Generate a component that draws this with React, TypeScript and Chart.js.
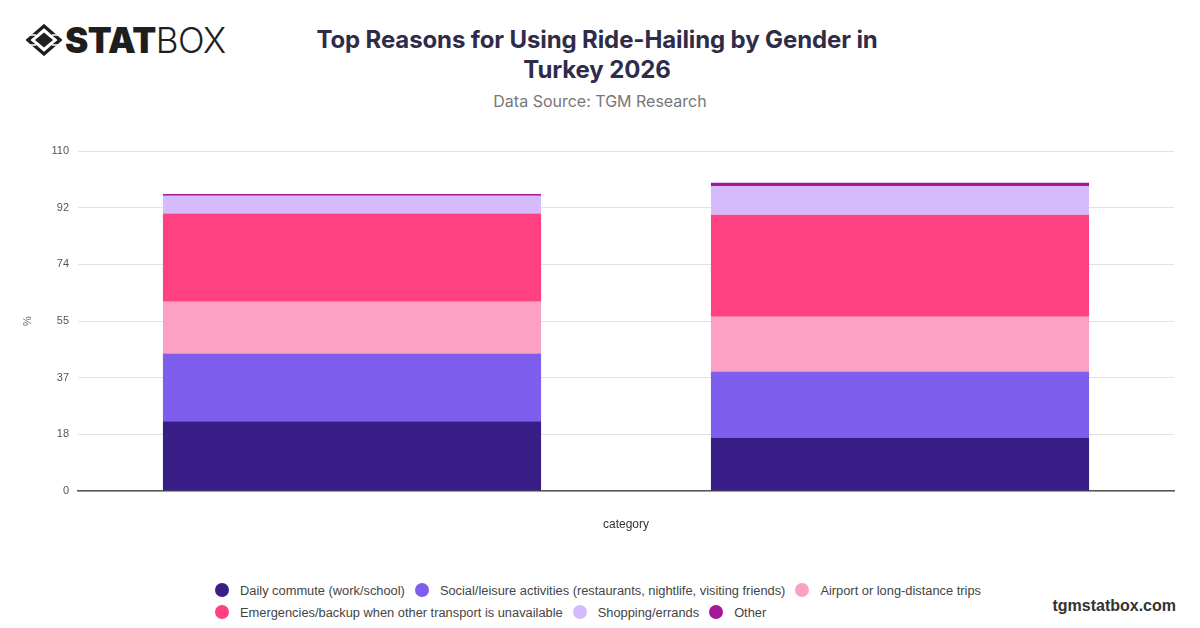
import React, { useEffect, useRef } from "react";
import { Chart, registerables } from "chart.js";

Chart.register(...registerables);

// ---- data ----
const categories = ["Male", "Female"];
const seriesLabels = [
  "Daily commute (work/school)",
  "Social/leisure activities (restaurants, nightlife, visiting friends)",
  "Airport or long-distance trips",
  "Emergencies/backup when other transport is unavailable",
  "Shopping/errands",
  "Other",
];
const dailyCommute = [22.6, 17.3];
const socialLeisure = [21.9, 21.4];
const airportTrips = [16.7, 17.7];
const emergencies = [28.6, 33.0];
const shopping = [5.7, 9.2];
const other = [0.6, 1.1];
const seriesColors = ["#381e86", "#7e5eec", "#fca1c3", "#ff4181", "#d5bbfc", "#a5189c"];
const yTickValues = [0, 18.33, 36.67, 55, 73.33, 91.67, 110];
const yTickLabels = ["0", "18", "37", "55", "74", "92", "110"];

const TITLE_LINES = ["Top Reasons for Using Ride-Hailing by Gender in", "Turkey 2026"];
const SUBTITLE = "Data Source: TGM Research";

const seriesValues = [dailyCommute, socialLeisure, airportTrips, emergencies, shopping, other];

function Logo() {
  return (
    <div style={{ position: "absolute", left: 26, top: 20, display: "flex", alignItems: "center", height: 40 }}>
      <svg width="36" height="32" viewBox="0 0 36 32" style={{ marginRight: 3 }}>
        <path d="M18 2 L34 16 L18 30 L2 16 Z" fill="none" stroke="#1e1e1e" strokeWidth="3.2" strokeLinejoin="miter" />
        <path d="M18 8.5 L27 16 L18 23.5 L9 16 Z" fill="#1e1e1e" />
        <path d="M4 11 L10 11 M26 11 L32 11 M4 21 L10 21 M26 21 L32 21" stroke="#fff" strokeWidth="1.6" />
      </svg>
      <span style={{ fontFamily: "Inter, sans-serif", fontWeight: 900, fontSize: 35, color: "#1e1e1e", letterSpacing: -0.5, lineHeight: "40px" }}>STAT</span>
      <span style={{ fontFamily: "Inter, sans-serif", fontWeight: 300, fontSize: 35, color: "#1e1e1e", letterSpacing: -0.5, lineHeight: "40px" }}>BOX</span>
    </div>
  );
}

export default function App() {
  const canvasRef = useRef<HTMLCanvasElement | null>(null);

  useEffect(() => {
    if (!canvasRef.current) return;
    const chart = new Chart(canvasRef.current, {
      type: "bar",
      data: {
        labels: categories,
        datasets: seriesLabels.map((label, i) => ({
          label,
          data: seriesValues[i],
          backgroundColor: seriesColors[i],
          borderWidth: 0,
          categoryPercentage: 0.8,
          barPercentage: 0.8625,
        })),
      },
      options: {
        animation: false,
        responsive: true,
        maintainAspectRatio: false,
        layout: { padding: { left: 17, right: 26, top: 21, bottom: 8.6 } },
        plugins: {
          legend: { display: false },
          title: { display: false },
          tooltip: { enabled: false },
        },
        scales: {
          x: {
            stacked: true,
            ticks: { display: false },
            grid: { display: false },
            border: { display: true, color: "#555", width: 1.5 },
            title: {
              display: true,
              text: "category",
              color: "#333",
              font: { family: "'Liberation Sans', Arial, sans-serif", size: 12 },
              padding: { top: 18, bottom: 0 },
            },
          },
          y: {
            stacked: true,
            min: 0,
            max: 110,
            afterFit: (scale: any) => {
              scale.width = 61;
            },
            afterBuildTicks: (scale: any) => {
              scale.ticks = yTickValues.map((value) => ({ value }));
            },
            ticks: {
              padding: 9,
              color: "#555",
              font: { family: "'Liberation Sans', Arial, sans-serif", size: 11 },
              callback: (_v: any, index: number) => yTickLabels[index],
            },
            grid: { color: "#e3e3e3", drawTicks: false, lineWidth: 1 },
            border: { display: false },
            title: {
              display: true,
              text: "%",
              color: "#666",
              font: { family: "'Liberation Sans', Arial, sans-serif", size: 11 },
              padding: { top: 4, bottom: 4 },
            },
          },
        },
      },
    });
    return () => chart.destroy();
  }, []);

  return (
    <div style={{ position: "fixed", left: 0, top: 0, width: 1200, height: 628, background: "#fff", overflow: "hidden" }}>
      <Logo />
      <div
        style={{
          position: "absolute",
          left: 297,
          top: 25,
          width: 600,
          textAlign: "center",
          fontFamily: "Inter, sans-serif",
          fontWeight: 700,
          fontSize: 24,
          lineHeight: "30px",
          color: "#2f2c4a",
          letterSpacing: -0.12,
        }}
      >
        {TITLE_LINES.map((l, i) => (
          <div key={i}>{l}</div>
        ))}
      </div>
      <div
        style={{
          position: "absolute",
          left: 300,
          top: 90,
          width: 600,
          textAlign: "center",
          fontFamily: "Inter, sans-serif",
          fontSize: 16,
          lineHeight: "22px",
          color: "#777",
        }}
      >
        {SUBTITLE}
      </div>
      <div style={{ position: "absolute", left: 0, top: 130, width: 1200, height: 410 }}>
        <canvas ref={canvasRef} />
      </div>
      <div
        style={{
          position: "absolute",
          left: 215,
          top: 579,
          width: 810,
          display: "flex",
          flexWrap: "wrap",
          fontFamily: "'Liberation Sans', Arial, sans-serif",
          fontSize: 12.85,
          color: "#444",
        }}
      >
        {seriesLabels.map((label, i) => (
          <div key={i} style={{ display: "flex", alignItems: "center", height: 22, marginRight: 10 }}>
            <span
              style={{
                display: "inline-block",
                width: 14,
                height: 14,
                borderRadius: "50%",
                background: seriesColors[i],
                marginRight: 11,
              }}
            />
            <span>{label}</span>
          </div>
        ))}
      </div>
      <div
        style={{
          position: "absolute",
          right: 24,
          top: 596,
          fontFamily: "'Liberation Sans', Arial, sans-serif",
          fontWeight: 700,
          fontSize: 16,
          lineHeight: "20px",
          color: "#333",
        }}
      >
        tgmstatbox.com
      </div>
    </div>
  );
}
